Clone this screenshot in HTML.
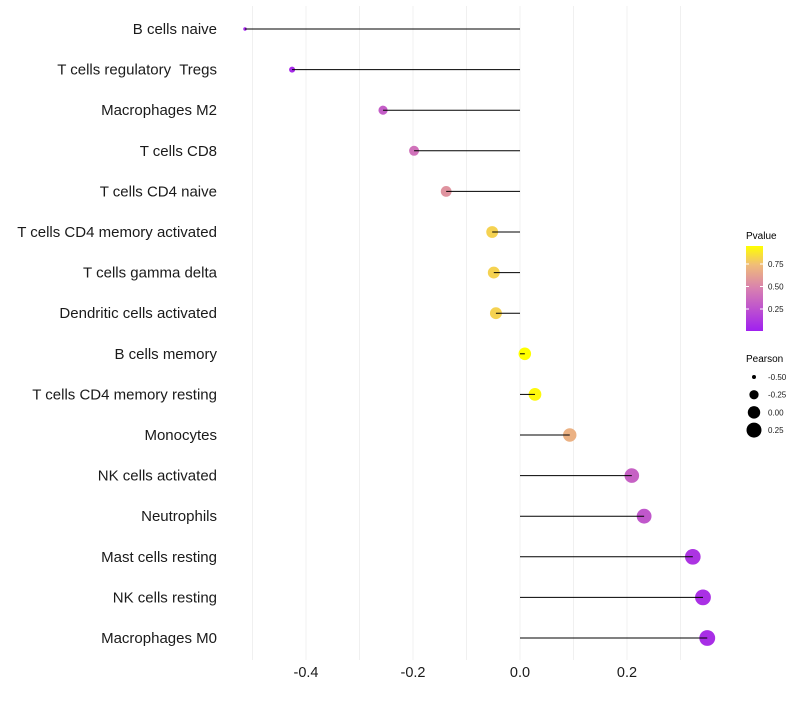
<!DOCTYPE html>
<html><head><meta charset="utf-8"><style>
body{margin:0;background:#fff;font-family:"Liberation Sans",sans-serif}
text{white-space:pre}
</style></head><body>
<svg id="chart" width="800" height="700" xmlns="http://www.w3.org/2000/svg">
<defs><linearGradient id="pg" x1="0" y1="1" x2="0" y2="0">
<stop offset="0" stop-color="#a020f0"/><stop offset="0.5" stop-color="#d880b0"/><stop offset="0.78" stop-color="#f0bd78"/><stop offset="1" stop-color="#ffff00"/>
</linearGradient></defs>
<g id="grid"></g><g id="marks"></g><g id="ylab"></g><g id="xlab"></g>
<g id="legend">
<text x="746" y="239" font-size="10">Pvalue</text>
<rect x="746" y="246" width="17" height="85" fill="url(#pg)"/>
<g id="cbt"></g>
<text x="746" y="362" font-size="10">Pearson</text>
<g id="szl"></g>
</g>
</svg>
<script>
const categories=["B cells naive","T cells regulatory  Tregs","Macrophages M2","T cells CD8","T cells CD4 naive","T cells CD4 memory activated","T cells gamma delta","Dendritic cells activated","B cells memory","T cells CD4 memory resting","Monocytes","NK cells activated","Neutrophils","Mast cells resting","NK cells resting","Macrophages M0"];
const pearson=[-0.514,-0.426,-0.256,-0.198,-0.138,-0.052,-0.049,-0.045,0.009,0.028,0.093,0.209,0.232,0.323,0.342,0.350];
const pvalue=[0.03,0.05,0.30,0.40,0.55,0.80,0.80,0.80,0.97,0.92,0.68,0.32,0.27,0.10,0.08,0.07];
const xTicks=[-0.4,-0.2,0,0.2];
const gridVals=[-0.5,-0.4,-0.3,-0.2,-0.1,0,0.1,0.2,0.3];
const pTicks=[0.25,0.5,0.75];
const sizeTicks=[-0.5,-0.25,0,0.25];
const NS="http://www.w3.org/2000/svg";
const X=v=>520+v*535;
const Y=i=>29+i*40.6;
const PY=p=>331.5-p*90;
const pmin=-0.514,pmax=0.35;
const R=v=>Math.sqrt(3+Math.max(0,(v-pmin)/(pmax-pmin))*60);
const stops=[[0,[160,32,240]],[0.5,[216,128,176]],[0.78,[240,189,120]],[1,[255,255,0]]];
function col(p){const t=Math.min(1,Math.max(0,p/0.94));
for(let k=1;k<stops.length;k++){if(t<=stops[k][0]){const a=stops[k-1],b=stops[k];const u=(t-a[0])/(b[0]-a[0]);
return 'rgb('+a[1].map((x,j)=>Math.round(x+(b[1][j]-x)*u))+')';}}return 'rgb(255,255,0)';}
function mk(tag,at,par){const e=document.createElementNS(NS,tag);for(const k in at)e.setAttribute(k,at[k]);document.getElementById(par).appendChild(e);return e;}
gridVals.forEach(v=>{const l=mk('line',{x1:X(v),x2:X(v),y1:6,y2:660,stroke:'#f0f0f0','stroke-width':1},'grid');

});
categories.forEach((c,i)=>{
const d=mk('circle',{cx:X(pearson[i]),cy:Y(i),r:R(pearson[i]),fill:col(pvalue[i])},'marks');


const s=mk('line',{x1:X(0),x2:X(pearson[i]),y1:Y(i),y2:Y(i),stroke:'#000','stroke-width':1},'marks');


const t=mk('text',{x:217,y:Y(i)+5,'font-size':15,'text-anchor':'end',fill:'#1a1a1a'},'ylab');t.textContent=c;

});
xTicks.forEach(v=>{const t=mk('text',{x:X(v),y:677,'font-size':14.5,'text-anchor':'middle',fill:'#1a1a1a'},'xlab');t.textContent=v.toFixed(1);

});
pTicks.forEach(p=>{mk('line',{x1:746,x2:749,y1:PY(p),y2:PY(p),stroke:'#fff'},'cbt');mk('line',{x1:760,x2:763,y1:PY(p),y2:PY(p),stroke:'#fff'},'cbt');
const t=mk('text',{x:768,y:PY(p)+3,'font-size':8,fill:'#1a1a1a'},'cbt');t.textContent=p.toFixed(2);

});
sizeTicks.forEach((v,i)=>{const yy=377+i*17.7;
const c=mk('circle',{cx:754,cy:yy,r:R(v),fill:'#000'},'szl');


const t=mk('text',{x:768,y:yy+3,'font-size':8,fill:'#1a1a1a'},'szl');t.textContent=v.toFixed(2);

});
</script>
</body></html>
